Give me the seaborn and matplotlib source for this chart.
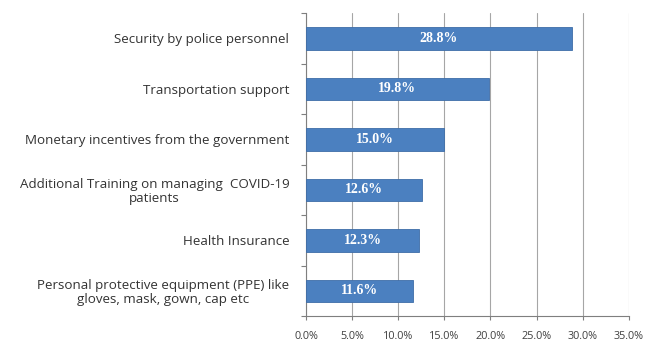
import matplotlib
matplotlib.use("Agg")
import matplotlib.pyplot as plt
import seaborn as sns
import numpy as np
import pandas as pd
from matplotlib.ticker import FixedLocator, PercentFormatter

categories = [
    "Security by police personnel",
    "Transportation support",
    "Monetary incentives from the government",
    "Additional Training on managing  COVID-19\npatients",
    "Health Insurance",
    "Personal protective equipment (PPE) like\ngloves, mask, gown, cap etc",
]
values = [28.8, 19.8, 15.0, 12.6, 12.3, 11.6]
x_ticks = [0, 5, 10, 15, 20, 25, 30, 35]

df = pd.DataFrame({"measure": categories, "pct": values})

sns.set_theme(style="white")
plt.rcParams["font.family"] = ["Open Sans", "DejaVu Sans"]

fig = plt.figure(figsize=(6.51, 3.47), dpi=100)
ax = fig.add_axes([0.470, 0.089, 0.496, 0.873])

bar_color = "#4B80C0"
sns.barplot(data=df, x="pct", y="measure", orient="h", color=bar_color,
            width=0.45, saturation=1, ax=ax, zorder=3,
            edgecolor="#3E6DA8", linewidth=0.6)

# value labels inside bars
for i, v in enumerate(values):
    ax.text(v / 2, i, f"{v:.1f}%", ha="center", va="center",
            color="white", fontsize=10, fontweight="bold",
            family=["Liberation Serif", "DejaVu Serif"], zorder=4)

ax.set_xlim(0, 35)
ax.set_ylim(len(categories) - 0.5, -0.5)
ax.xaxis.set_major_locator(FixedLocator(x_ticks))
ax.xaxis.set_major_formatter(PercentFormatter(decimals=1))
ax.set_xlabel("")
ax.set_ylabel("")

# vertical gridlines
ax.grid(axis="x", color="#A6A6A6", linewidth=0.8, zorder=0)
ax.grid(axis="y", visible=False)

# category ticks sit between bars
ax.yaxis.set_minor_locator(FixedLocator(np.arange(-0.5, len(categories), 1.0)))
ax.tick_params(axis="y", which="major", length=0, pad=12, labelsize=9.6,
               labelcolor="#333333")
ax.tick_params(axis="y", which="minor", left=True, length=3.5,
               width=0.8, color="#7F7F7F")
ax.tick_params(axis="x", which="major", bottom=True, length=3, width=0.8,
               color="#7F7F7F", labelsize=7.8, labelcolor="#404040", pad=8)
for lbl in ax.get_yticklabels():
    lbl.set_multialignment("center")
    lbl.set_linespacing(1.1)

for side in ["top", "right"]:
    ax.spines[side].set_visible(False)
ax.spines["left"].set_color("#7F7F7F")
ax.spines["left"].set_linewidth(0.8)
ax.spines["bottom"].set_color("#7F7F7F")
ax.spines["bottom"].set_linewidth(0.8)

fig.savefig("out.png", dpi=100, facecolor="white")
